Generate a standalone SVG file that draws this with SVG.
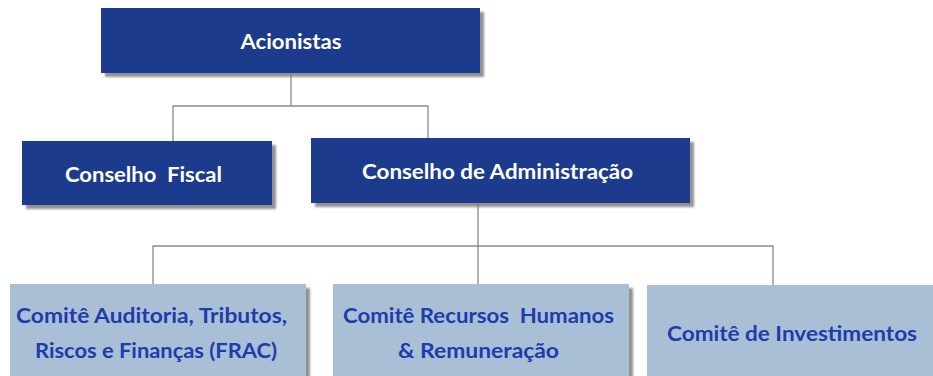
<svg xmlns="http://www.w3.org/2000/svg" width="933" height="376" viewBox="0 0 933 376">
<defs>
<filter id="sh" x="-5%" y="-10%" width="115%" height="130%">
<feDropShadow dx="4" dy="4" stdDeviation="1.2" flood-color="#7f7f7f" flood-opacity="0.85"/>
</filter>
<style>
.dark{fill:#1B3A8C;filter:url(#sh)}
.light{fill:#A9BFD6;filter:url(#sh)}
.tw{fill:#ffffff;font-family:Lato,"Open Sans","Liberation Sans",sans-serif;font-weight:bold;font-size:21px;text-anchor:middle}
.tb{fill:#1E3CAC;font-family:Lato,"Open Sans","Liberation Sans",sans-serif;font-weight:bold;font-size:21px;text-anchor:middle}
.ln{stroke:#8a8a8a;stroke-width:1.3;fill:none}
</style>
</defs>
<rect width="933" height="376" fill="#ffffff"/>
<g id="connectors">
<path class="ln" d="M291 73V106M173 141V106H428V138"/>
<path class="ln" d="M478 203V246M153 284V246H773V285M478 246V284"/>
</g>
<g id="acionistas">
<rect class="dark" x="101" y="8" width="379" height="65"/>
<text class="tw" x="291" y="49" textLength="101" lengthAdjust="spacingAndGlyphs">Acionistas</text>
</g>
<g id="conselho-fiscal">
<rect class="dark" x="22" y="141" width="250" height="64"/>
<text class="tw" x="143.5" y="182" textLength="157" lengthAdjust="spacingAndGlyphs" xml:space="preserve">Conselho  Fiscal</text>
</g>
<g id="conselho-admin">
<rect class="dark" x="311" y="138" width="379" height="65"/>
<text class="tw" x="497.5" y="179" textLength="271" lengthAdjust="spacingAndGlyphs">Conselho de Administração</text>
</g>
<g id="comite-frac">
<rect class="light" x="10" y="284" width="296" height="100"/>
<text class="tb" x="151.5" y="323" textLength="271" lengthAdjust="spacingAndGlyphs">Comitê Auditoria, Tributos,</text>
<text class="tb" x="156" y="358" textLength="242" lengthAdjust="spacingAndGlyphs">Riscos e Finanças (FRAC)</text>
</g>
<g id="comite-rh">
<rect class="light" x="333" y="284" width="296" height="100"/>
<text class="tb" x="478.5" y="323" textLength="271" lengthAdjust="spacingAndGlyphs" xml:space="preserve">Comitê Recursos  Humanos</text>
<text class="tb" x="478.5" y="358" textLength="161" lengthAdjust="spacingAndGlyphs">&amp; Remuneração</text>
</g>
<g id="comite-inv">
<rect class="light" x="647" y="285" width="296" height="100"/>
<text class="tb" x="792" y="341" textLength="250" lengthAdjust="spacingAndGlyphs">Comitê de Investimentos</text>
</g>
</svg>
